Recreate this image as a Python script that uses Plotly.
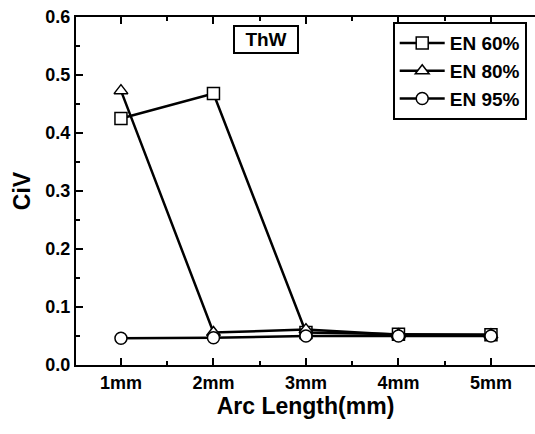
import plotly.graph_objects as go

categories = [1, 2, 3, 4, 5]
tick_labels = ["1mm", "2mm", "3mm", "4mm", "5mm"]
y_ticks = [0.0, 0.1, 0.2, 0.3, 0.4, 0.5, 0.6]
en60 = [0.425, 0.468, 0.056, 0.053, 0.052]
en80 = [0.473, 0.056, 0.061, 0.052, 0.052]
en95 = [0.046, 0.047, 0.050, 0.050, 0.050]

FONT = "Liberation Sans"

fig = go.Figure()
series = [("EN 60%", en60, "square"), ("EN 80%", en80, "triangle-up"), ("EN 95%", en95, "circle")]
for name, vals, sym in series:
    fig.add_trace(go.Scatter(
        x=categories, y=vals, name="<b>" + name + "</b>", mode="lines+markers",
        line=dict(color="black", width=2.5),
        marker=dict(symbol=sym, size=12, color="white",
                    line=dict(color="black", width=1.5)),
    ))

fig.update_layout(
    width=535, height=434,
    margin=dict(l=76, r=0, t=17, b=69),
    paper_bgcolor="white", plot_bgcolor="white",
    font=dict(family=FONT, color="black", size=15),
    showlegend=True,
    legend=dict(x=0.69, y=0.985, xanchor="left", yanchor="top",
                bordercolor="black", borderwidth=2, bgcolor="white",
                font=dict(family=FONT, size=19, color="black"),
                itemwidth=45, tracegroupgap=0),
    annotations=[dict(text="<b>ThW</b>", xref="paper", yref="paper", x=0.415, y=0.934,
                      xanchor="center", yanchor="middle", width=58,
                      showarrow=False, font=dict(family=FONT, size=19, color="black"),
                      bordercolor="black", borderwidth=2, borderpad=2, bgcolor="white")],
)
fig.update_xaxes(
    range=[0.514, 5.476], tickvals=categories, ticktext=["<b>" + t + "</b>" for t in tick_labels],
    automargin=False,
    showgrid=False, zeroline=False, showline=True, linecolor="black", linewidth=2,
    mirror="ticks", ticks="inside", ticklen=7, tickwidth=2, tickcolor="black",
    tickfont=dict(family=FONT, size=18, color="black"),
    minor=dict(ticks="inside", ticklen=4, tickwidth=1.5, tickcolor="black", dtick=0.5, tick0=0.5),
    title=dict(text="<b>Arc Length(mm)</b>", font=dict(family=FONT, size=23, color="black"), standoff=6),
)
fig.update_yaxes(
    range=[0, 0.6], tickvals=y_ticks, ticktext=["<b>%.1f</b>" % v for v in y_ticks],
    automargin=False, ticklabeloverflow="allow",
    showgrid=False, zeroline=False, showline=True, linecolor="black", linewidth=2,
    ticks="inside", ticklen=7, tickwidth=2, tickcolor="black",
    tickfont=dict(family=FONT, size=18, color="black"),
    minor=dict(ticks="inside", ticklen=4, tickwidth=1.5, tickcolor="black", dtick=0.05),
    title=dict(text="<b>CiV</b>", font=dict(family=FONT, size=23, color="black"), standoff=8),
)

fig.write_html(
    "out.html",
    config={"displayModeBar": False},
    post_script="document.body.style.margin='0';document.body.style.overflow='hidden';",
)
